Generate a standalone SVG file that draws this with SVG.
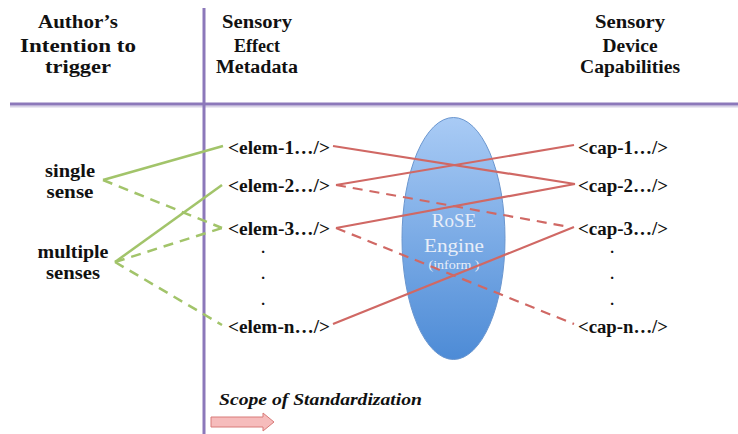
<svg xmlns="http://www.w3.org/2000/svg" width="738" height="434" viewBox="0 0 738 434">
  <defs>
    <linearGradient id="engineFill" x1="0" y1="0" x2="0" y2="1">
      <stop offset="0" stop-color="#a9cbf5"/>
      <stop offset="1" stop-color="#4d8bd6"/>
    </linearGradient>
    <style>
      .hdr { font-family: "Liberation Serif", "DejaVu Serif", serif; font-weight: bold; font-size: 18px; fill: #111; text-anchor: middle; }
      .lbl { font-family: "Liberation Serif", "DejaVu Serif", serif; font-weight: bold; font-size: 18px; fill: #111; }
      .side { font-family: "Liberation Serif", "DejaVu Serif", serif; font-weight: bold; font-size: 18px; fill: #111; text-anchor: middle; }
      .dot { font-family: "Liberation Serif", serif; font-weight: bold; font-size: 15px; fill: #111; text-anchor: middle; }
      .eng { font-family: "Liberation Serif", "DejaVu Serif", serif; fill: #e8eef8; text-anchor: middle; }
      .rule { stroke: #8c78ba; stroke-width: 3; fill: none; }
      .g { stroke: #a2c46a; stroke-width: 2.5; fill: none; }
      .r { stroke: #d06864; stroke-width: 2.2; fill: none; }
      .dash { stroke-dasharray: 10 7; }
    </style>
  </defs>
  <rect width="738" height="434" fill="#ffffff"/>

  <!-- column rules -->
  <g id="rules">
    <line x1="10" y1="106.5" x2="738" y2="106.5" stroke="#d8d2e6" stroke-width="2"/>
    <line class="rule" x1="10" y1="104" x2="738" y2="104"/>
    <line class="rule" x1="204" y1="8" x2="204" y2="434"/>
  </g>

  <!-- column headers -->
  <g id="header-author">
    <text class="hdr" x="78" y="28" textLength="80" lengthAdjust="spacingAndGlyphs">Author’s</text>
    <text class="hdr" x="78" y="52" textLength="116" lengthAdjust="spacingAndGlyphs">Intention to</text>
    <text class="hdr" x="78" y="73" textLength="66" lengthAdjust="spacingAndGlyphs">trigger</text>
  </g>
  <g id="header-effect">
    <text class="hdr" x="257" y="28" textLength="70" lengthAdjust="spacingAndGlyphs">Sensory</text>
    <text class="hdr" x="257" y="52" textLength="46" lengthAdjust="spacingAndGlyphs">Effect</text>
    <text class="hdr" x="257" y="73" textLength="82" lengthAdjust="spacingAndGlyphs">Metadata</text>
  </g>
  <g id="header-capabilities">
    <text class="hdr" x="630" y="28" textLength="70" lengthAdjust="spacingAndGlyphs">Sensory</text>
    <text class="hdr" x="630" y="52" textLength="55" lengthAdjust="spacingAndGlyphs">Device</text>
    <text class="hdr" x="630" y="73" textLength="100" lengthAdjust="spacingAndGlyphs">Capabilities</text>
  </g>

  <!-- RoSE engine -->
  <g id="rose-engine">
    <ellipse cx="453.5" cy="238.5" rx="51.5" ry="121" fill="url(#engineFill)" stroke="#6a96cf" stroke-width="1"/>
    <text class="eng" x="454" y="227" font-size="19">RoSE</text>
    <text class="eng" x="454" y="252" font-size="19" textLength="60" lengthAdjust="spacingAndGlyphs">Engine</text>
    <text class="eng" x="454" y="269" font-size="12.5" textLength="51" lengthAdjust="spacingAndGlyphs">(inform )</text>
  </g>

  <!-- connectors -->
  <g id="connectors">
    <line class="g" x1="103" y1="180" x2="223" y2="146"/>
    <line class="g dash" x1="103" y1="180" x2="222" y2="228"/>
    <line class="g" x1="115" y1="262" x2="222" y2="185"/>
    <line class="g dash" x1="115" y1="262" x2="222" y2="228"/>
    <line class="g dash" x1="115" y1="262" x2="222" y2="325"/>

    <line class="r" x1="333" y1="146" x2="575" y2="184"/>
    <line class="r" x1="336" y1="185" x2="574" y2="145"/>
    <line class="r dash" x1="336" y1="185" x2="570" y2="227"/>
    <line class="r" x1="336" y1="228" x2="575" y2="184"/>
    <line class="r dash" x1="336" y1="228" x2="574" y2="324"/>
    <line class="r" x1="333" y1="324" x2="574" y2="227"/>
  </g>

  <!-- intentions -->
  <g id="single-sense">
    <text class="side" x="70" y="177" textLength="50" lengthAdjust="spacingAndGlyphs">single</text>
    <text class="side" x="70" y="198" textLength="47" lengthAdjust="spacingAndGlyphs">sense</text>
  </g>
  <g id="multiple-senses">
    <text class="side" x="73" y="258" textLength="71" lengthAdjust="spacingAndGlyphs">multiple</text>
    <text class="side" x="73" y="279" textLength="54" lengthAdjust="spacingAndGlyphs">senses</text>
  </g>

  <!-- sensory effect metadata elements -->
  <g id="elem-1"><text class="lbl" x="228" y="154" textLength="102" lengthAdjust="spacingAndGlyphs">&lt;elem-1…/&gt;</text></g>
  <g id="elem-2"><text class="lbl" x="228" y="192" textLength="102" lengthAdjust="spacingAndGlyphs">&lt;elem-2…/&gt;</text></g>
  <g id="elem-3"><text class="lbl" x="228" y="235" textLength="102" lengthAdjust="spacingAndGlyphs">&lt;elem-3…/&gt;</text></g>
  <g id="elem-dots">
    <text class="dot" x="263" y="253">.</text>
    <text class="dot" x="263" y="279">.</text>
    <text class="dot" x="263" y="305">.</text>
  </g>
  <g id="elem-n"><text class="lbl" x="228" y="333" textLength="102" lengthAdjust="spacingAndGlyphs">&lt;elem-n…/&gt;</text></g>

  <!-- sensory device capabilities -->
  <g id="cap-1"><text class="lbl" x="578" y="154" textLength="90" lengthAdjust="spacingAndGlyphs">&lt;cap-1…/&gt;</text></g>
  <g id="cap-2"><text class="lbl" x="578" y="192" textLength="90" lengthAdjust="spacingAndGlyphs">&lt;cap-2…/&gt;</text></g>
  <g id="cap-3"><text class="lbl" x="578" y="235" textLength="90" lengthAdjust="spacingAndGlyphs">&lt;cap-3…/&gt;</text></g>
  <g id="cap-dots">
    <text class="dot" x="612" y="253">.</text>
    <text class="dot" x="612" y="279">.</text>
    <text class="dot" x="612" y="305">.</text>
  </g>
  <g id="cap-n"><text class="lbl" x="578" y="333" textLength="90" lengthAdjust="spacingAndGlyphs">&lt;cap-n…/&gt;</text></g>

  <!-- scope of standardization -->
  <g id="scope">
    <text x="219" y="405" font-family="Liberation Serif, DejaVu Serif, serif" font-weight="bold" font-style="italic" font-size="17" fill="#111" textLength="203" lengthAdjust="spacingAndGlyphs">Scope of Standardization</text>
    <path d="M211,417 H263 V413 L274,422 L263,431 V427 H211 Z" fill="#f6bcbc" stroke="#d87a78" stroke-width="1"/>
  </g>
</svg>
